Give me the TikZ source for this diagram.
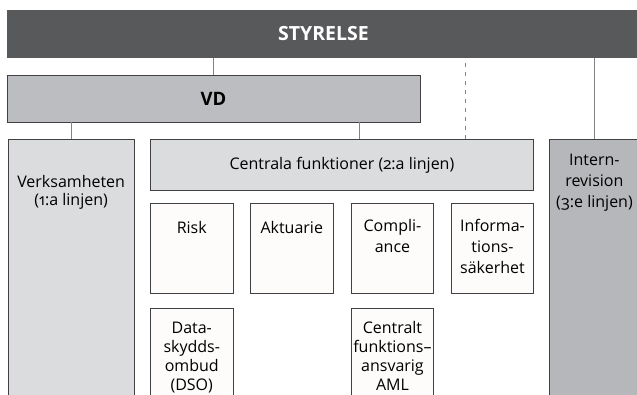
\documentclass[tikz,border=0pt]{standalone}
\usepackage{fontspec}
\setmainfont[Numbers=OldStyle]{Open Sans}

\definecolor{boardgray}{HTML}{58595B}
\definecolor{ceogray}{HTML}{BCBDC0}
\definecolor{lanegray}{HTML}{DBDCDD}
\definecolor{auditgray}{HTML}{B6B7BA}
\definecolor{framegray}{HTML}{414042}
\definecolor{linkgray}{HTML}{808285}
\definecolor{cardwhite}{HTML}{FDFCFA}

% text block hanging from the top of a box: width, height, top gap, text
\newcommand{\cardtext}[4]{\parbox[c][#2pt][t]{#1pt}{\centering\vspace*{#3pt}#4\par}}

\begin{document}
\begin{tikzpicture}[x=1pt,y=-1pt,
  every node/.style={font=\fontsize{16}{21}\selectfont},
  board/.style={fill=boardgray,text=white,inner sep=0pt,font=\fontsize{19.5}{22}\selectfont\bfseries},
  ceo/.style={draw=framegray,fill=ceogray,line width=0.8pt,inner sep=0pt,font=\fontsize{18.5}{22}\selectfont\bfseries},
  lane/.style={draw=framegray,fill=lanegray,line width=0.8pt,inner sep=0pt,anchor=north west},
  audit/.style={draw=framegray,fill=auditgray,line width=0.8pt,inner sep=0pt,anchor=north west},
  card/.style={draw=framegray,fill=cardwhite,line width=0.8pt,inner sep=0pt,anchor=north west},
  tightcard/.style={card,font=\fontsize{16}{19}\selectfont},
  link/.style={draw=linkgray,line width=1.2pt}]
  \useasboundingbox (0,0) rectangle (637,394);
  \clip (0,0) rectangle (637,394);

  \node[board,minimum width=633pt,minimum height=48pt] (styrelse) at (323.5,34) {STYRELSE};
  \node[ceo,minimum width=413pt,minimum height=47pt] (vd) at (213.5,98.5) {VD};

  % the three lines of defence
  \node[lane] (verksamhet) at (7.5,139) {\cardtext{126.5}{270}{36}{Verksamheten\\[-3pt](1:a linjen)}};
  \node[lane,minimum width=383pt,minimum height=51pt] (centrala) at (150,139) {Centrala funktioner (2:a linjen)};
  \node[audit] (intern) at (548.5,139) {\cardtext{91}{270}{15}{Intern-\\revision\\(3:e linjen)}};

  % control functions
  \foreach \name/\x/\gap/\txt in {risk/150/18/{Risk},aktuarie/250/18/{Aktuarie},compliance/350.7/16/{Compli-\\ance},infosak/450.7/16/{Informa-\\tions-\\säkerhet}}
    \node[card] (\name) at (\x,203.3) {\cardtext{82.7}{90}{\gap}{\txt}};
  \node[tightcard] (dso) at (150,308.3) {\cardtext{82.7}{100}{13}{Data-\\skydds-\\ombud\\(DSO)}};
  \node[tightcard] (aml) at (350.7,308.3) {\cardtext{82.7}{100}{13}{Centralt\\funktions–\\ansvarig\\AML}};

  \draw[link] (vd.north) -- (vd.north |- styrelse.south);
  \draw[link] (verksamhet.north) -- (verksamhet.north |- vd.south);
  \draw[link] ([xshift=17.5pt]centrala.north) -- ([xshift=17.5pt]centrala.north |- vd.south);
  \draw[link,dash pattern=on 4.5pt off 4.5pt] ([xshift=123.5pt]centrala.north) -- ([xshift=123.5pt]centrala.north |- styrelse.south);
  \draw[link] (intern.north) -- (intern.north |- styrelse.south);
\end{tikzpicture}
\end{document}
